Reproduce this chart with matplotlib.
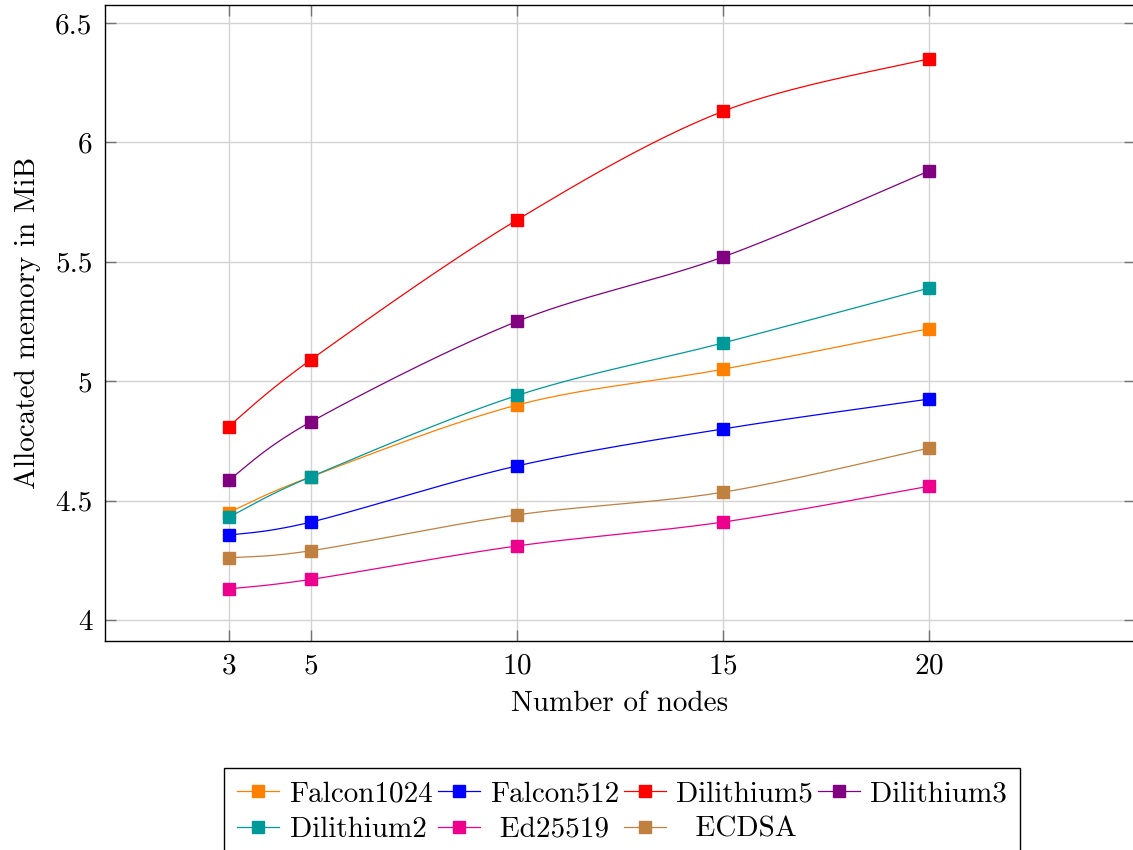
import numpy as np
import matplotlib
matplotlib.use("Agg")
import matplotlib.pyplot as plt

plt.rcParams["font.family"] = "serif"
plt.rcParams["font.serif"] = ["cmr10", "DejaVu Serif"]
plt.rcParams["mathtext.fontset"] = "cm"
plt.rcParams["axes.formatter.use_mathtext"] = True

nodes = [3, 5, 10, 15, 20]

falcon1024 = [4.45, 4.60, 4.90, 5.05, 5.22]
falcon512 = [4.355, 4.41, 4.645, 4.80, 4.925]
dilithium5 = [4.81, 5.09, 5.675, 6.13, 6.35]
dilithium3 = [4.585, 4.83, 5.25, 5.52, 5.88]
dilithium2 = [4.43, 4.60, 4.94, 5.16, 5.39]
ed25519 = [4.13, 4.17, 4.31, 4.41, 4.56]
ecdsa = [4.26, 4.29, 4.44, 4.535, 4.72]

series = [
    ("Falcon1024", falcon1024, "#FF8000"),
    ("Falcon512", falcon512, "#0000FF"),
    ("Dilithium5", dilithium5, "#FF0000"),
    ("Dilithium3", dilithium3, "#800080"),
    ("Dilithium2", dilithium2, "#009999"),
    (" Ed25519", ed25519, "#EC008C"),
    ("  ECDSA", ecdsa, "#BF8040"),
]


def smooth(xs, ys, tension=0.55, n=40):
    # tikz-like "smooth" curve: cubic bezier through the points
    p = np.column_stack([xs, ys]).astype(float)
    ext = np.vstack([p[0], p, p[-1]])
    k = tension * 0.3
    out = []
    for i in range(len(p) - 1):
        a, b = p[i], p[i + 1]
        c1 = a + k * (ext[i + 2] - ext[i])
        c2 = b - k * (ext[i + 3] - ext[i + 1])
        t = np.linspace(0, 1, n)[:, None]
        seg = ((1 - t) ** 3) * a + 3 * ((1 - t) ** 2) * t * c1 + 3 * (1 - t) * t ** 2 * c2 + t ** 3 * b
        out.append(seg if i == 0 else seg[1:])
    out = np.vstack(out)
    return out[:, 0], out[:, 1]


fig = plt.figure(figsize=(11.33, 8.5), dpi=100)
ax = fig.add_axes([105 / 1133, 1 - 641 / 850, 1030 / 1133, 636 / 850])

handles = {}
for name, vals, col in series:
    sx, sy = smooth(nodes, vals)
    ax.plot(sx, sy, color=col, lw=0.9, zorder=3)
    ax.plot(nodes, vals, ls="none", marker="s", ms=8.5, color=col, zorder=4)
    h, = ax.plot([], [], color=col, lw=0.9, marker="s", ms=8.5, label=name)
    handles[name.strip()] = h

ax.set_xlim(0, 25)
ax.set_ylim(3.912, 6.575)
ax.set_xticks(nodes)
ax.set_yticks([4, 4.5, 5, 5.5, 6, 6.5])
ax.set_yticklabels(["4", "4.5", "5", "5.5", "6", "6.5"])
ax.grid(True, color="#d3d3d3", lw=1)
ax.set_axisbelow(True)
ax.tick_params(direction="in", length=8, width=1, color="0.45", labelsize=21,
               top=True, right=True, pad=9)
for s in ax.spines.values():
    s.set_linewidth(1)
ax.set_xlabel("Number of nodes", fontsize=21, labelpad=8)
ax.set_ylabel("Allocated memory in MiB", fontsize=21, labelpad=10)

# column-major order so the legend reads row by row
order = ["Falcon1024", "Dilithium2", "Falcon512", "Ed25519",
         "Dilithium5", "ECDSA", "Dilithium3"]
fig.legend(handles=[handles[k] for k in order], ncol=4, loc="upper center",
           bbox_to_anchor=(622 / 1133, 1 - 768 / 850), borderaxespad=0,
           fontsize=21, frameon=True, fancybox=False, edgecolor="black",
           framealpha=1, handlelength=1.45, handletextpad=0.35,
           columnspacing=0.15, labelspacing=0.3, borderpad=0.45)

fig.savefig("out.png", dpi=100)
